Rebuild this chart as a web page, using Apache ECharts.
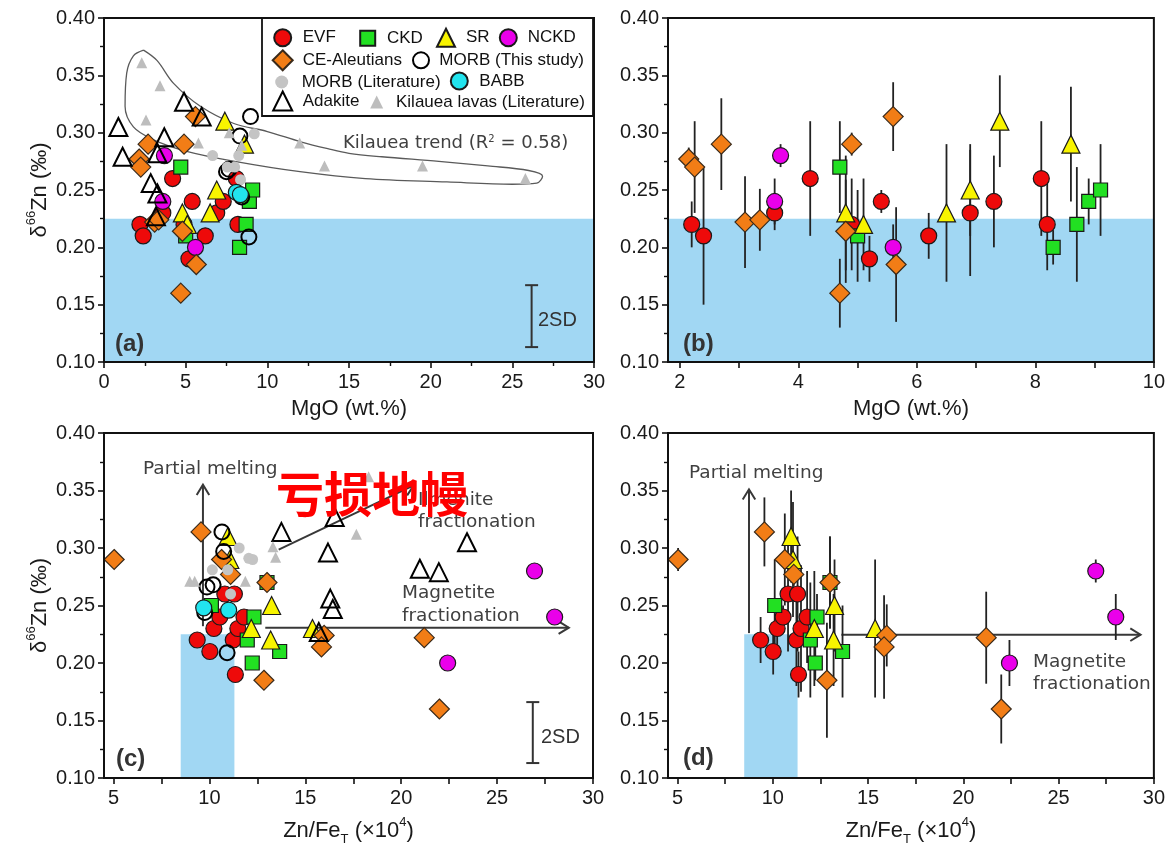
<!DOCTYPE html>
<html><head><meta charset="utf-8">
<script src="https://cdn.jsdelivr.net/npm/echarts@6/dist/echarts.min.js"></script>
<style>html,body{margin:0;padding:0;background:#fff}#c{width:1168px;height:852px}</style>
</head><body><div id="c"></div>
<script>
// ---------------- DATA ----------------
// Study samples (same sample index across MgO and Zn/FeT panels); null = not visible in that panel
const evfMgO  = [2.2, 2.4, 3.6, 4.2, 4.9, 5.2, 5.4, 6.2, 6.9, 7.3, 8.1, 8.2];
const evfZnFe = [9.36, null, 10.23, 10.8, 11.24, 11.35, 10.54, 10.02, 11.48, 11.8, 11.3, null];
const evfD66  = [0.22, 0.21, 0.23, 0.26, 0.22, 0.19, 0.24, 0.21, 0.23, 0.24, 0.26, 0.22];
const evfErr  = [0.02, 0.06, 0.015, 0.05, 0.04, 0.02, 0.01, 0.02, 0.055, 0.04, 0.05, 0.04];

const ckdMgO  = [4.7, 5.0, 8.3, 8.7, 8.9, 9.1];
const ckdZnFe = [13.0, 13.66, 12.23, 11.97, 12.32, 10.1];
const ckdD66  = [0.27, 0.21, 0.20, 0.22, 0.24, 0.25];
const ckdErr  = [0.04, 0.04, 0.015, 0.05, 0.02, 0.04];

const srMgO  = [4.8, 5.1, 6.5, 6.9, 7.4, 8.6];
const srZnFe = [12.18, 13.19, 15.37, 13.24, 10.96, 11.06];
const srD66  = [0.23, 0.22, 0.23, 0.25, 0.31, 0.29];
const srErr  = [0.05, 0.04, 0.06, 0.04, 0.04, 0.05];

const nckdMgO  = [3.7, 3.6, 5.6];
const nckdZnFe = [26.95, 28.0, 22.42];
const nckdD66  = [0.28, 0.24, 0.20];
const nckdErr  = [0.01, 0.02, 0.02];

const ceMgO  = [2.15, 2.25, 2.7, 3.1, 3.35, 4.7, 4.8, 4.9, 5.6, 5.65];
const ceZnFe = [11.1, 13.0, 10.63, 21.2, 15.98, 21.99, 15.84, 5.03, 9.56, 12.84];
const ceD66  = [0.277, 0.27, 0.29, 0.222, 0.224, 0.16, 0.214, 0.29, 0.314, 0.185];
const ceErr  = [0.01, 0.04, 0.04, 0.04, 0.027, 0.03, 0.045, 0.01, 0.03, 0.05];

const adakiteMgO  = [0.88, 1.14, 3.69, 3.27, 2.86, 3.27, 3.18, 4.9, 5.98];
const adakiteZnFe = [23.43, 21.96, 16.18, 20.97, 16.30, 16.43, 15.7, 16.53, 13.75];
const adakiteD66  = [0.305, 0.279, 0.296, 0.282, 0.256, 0.247, 0.227, 0.327, 0.314];

const morbStudyMgO  = [8.97, 8.32, 7.5, 7.65, 8.43, 8.87];
const morbStudyZnFe = [10.65, 10.74, 9.87, 10.19, 9.75, 10.92];
const morbStudyD66  = [0.314, 0.297, 0.266, 0.268, 0.244, 0.209];

const babbMgO  = [8.1, 8.35];
const babbZnFe = [9.7, 11.0];
const babbD66  = [0.248, 0.246];

// Literature data (as plotted in each panel)
const morbLitMgO   = [[9.2,0.299],[6.65,0.280],[8.25,0.280],[7.55,0.270],[8.0,0.270],[8.36,0.259]];
const morbLitZnFe  = [[11.55,0.300],[12.05,0.291],[12.25,0.290],[10.15,0.281],[10.95,0.281],[11.1,0.260]];
const kilaueaMgO   = [[2.31,0.361],[3.43,0.341],[2.57,0.311],[5.78,0.291],[7.67,0.300],[8.43,0.289],[11.98,0.291],[13.5,0.271],[19.5,0.271],[25.8,0.260]];
const kilaueaZnFe  = [[8.97,0.271],[9.23,0.271],[11.87,0.271],[13.31,0.301],[13.45,0.292],[17.66,0.312],[18.3,0.362]];

// Kilauea trend envelope (MgO, d66Zn)
const kilaueaEnvelope = [[2.42,0.372],[3.24,0.363],[4.26,0.343],[5.9,0.323],[7.95,0.308],[10.0,0.301],[12.05,0.292],[13.7,0.286],[15.0,0.282],[17.0,0.279],[20.5,0.275],[23.5,0.271],[26.0,0.267],[26.85,0.262],[26.5,0.256],[25.0,0.255],[21.0,0.257],[16.0,0.260],[12.0,0.266],[8.0,0.275],[5.0,0.284],[3.0,0.294],[1.8,0.305],[1.29,0.323],[1.39,0.352],[1.8,0.367],[2.42,0.372]];

// Reference field (x0, x1, y0, y1)
const bandMgO  = [[-1, 40, 0.10, 0.225]];
const bandZnFe = [[8.5, 11.3, 0.10, 0.225]];

// Trend arrows (x1, y1, x2, y2)
const arrowsC = [[9.66,0.232,9.66,0.355],[12.91,0.2307,28.74,0.2307],[13.61,0.2986,20.65,0.3545]];
const arrowsD = [[8.75,0.226,8.75,0.351],[13.6,0.2246,29.3,0.2246]];

// 2SD scale bars (x, center, half-length)
const sdA = [[26.18, 0.140, 0.027]];
const sdC = [[26.86, 0.1395, 0.0265]];

// Axis ticks
const xTicksB = [2,3,4,5,6,7,8,9,10];
const xLabelsB = [2,4,6,8,10];
const xTicksCD = [5,7.5,10,12.5,15,17.5,20,22.5,25,27.5,30];
const xLabelsCD = [5,10,15,20,25,30];

// ---------------- BUILD ----------------
const zip = (xs, ys) => xs.map((x,i)=> x==null ? null : [x, ys[i]]).filter(Boolean);
const zip3 = (xs, ys, es) => xs.map((x,i)=> x==null ? null : [x, ys[i], es[i]]).filter(Boolean);

const styles = {
  'EVF':          {symbol:'circle',   size:16, color:'#ee0a0a', border:'#1a1a1a', bw:1.2},
  'CKD':          {symbol:'rect',     size:14, color:'#22e022', border:'#1a1a1a', bw:1.2},
  'SR':           {symbol:'triangle', size:18, color:'#f8f400', border:'#1a1a1a', bw:1.2},
  'NCKD':         {symbol:'circle',   size:16, color:'#ea00ea', border:'#1a1a1a', bw:1.2},
  'CE-Aleutians': {symbol:'diamond',  size:20, color:'#f27d16', border:'#3a2a1a', bw:1.2},
  'MORB (This study)': {symbol:'circle', size:15, color:'transparent', border:'#000', bw:2},
  'MORB (Literature)': {symbol:'circle', size:11, color:'#c4c4c4', border:'#c4c4c4', bw:0},
  'BABB':         {symbol:'circle',   size:16, color:'#22e4ee', border:'#1a1a1a', bw:1.2},
  'Adakite':      {symbol:'triangle', size:18, color:'transparent', border:'#000', bw:2},
  'Kilauea lavas (Literature)': {symbol:'triangle', size:11, color:'#bdbdbd', border:'#bdbdbd', bw:0}
};
function sc(name, g, data){
  const s = styles[name];
  return {type:'scatter', name, xAxisIndex:g, yAxisIndex:g, data, symbol:s.symbol, symbolSize:s.size,
    itemStyle:{color:s.color, borderColor:s.border, borderWidth:s.bw, opacity:1}, z:3, silent:true, clip:true};
}
function band(g, data){
  return {type:'custom', xAxisIndex:g, yAxisIndex:g, data, z:1, silent:true, clip:true,
    renderItem:(p, api)=>{
      const a = api.coord([api.value(0), api.value(3)]);
      const b = api.coord([api.value(1), api.value(2)]);
      const cs = p.coordSys;
      const x0 = Math.max(a[0], cs.x), x1 = Math.min(b[0], cs.x+cs.width);
      return {type:'rect', shape:{x:x0, y:a[1], width:x1-x0, height:b[1]-a[1]}, style:{fill:'#a1d7f3'}};
    }};
}
function errBars(g, data){
  return {type:'custom', xAxisIndex:g, yAxisIndex:g, data, z:2, silent:true,
    renderItem:(p, api)=>{
      const x=api.value(0), y=api.value(1), e=api.value(2);
      const a=api.coord([x,y-e]), b=api.coord([x,y+e]);
      return {type:'line', shape:{x1:a[0],y1:a[1],x2:b[0],y2:b[1]}, style:{stroke:'#222', lineWidth:1.8}};
    }};
}
function arrows(g, data){
  return {type:'custom', xAxisIndex:g, yAxisIndex:g, data, z:2, silent:true,
    renderItem:(p, api)=>{
      const a=api.coord([api.value(0),api.value(1)]), b=api.coord([api.value(2),api.value(3)]);
      const ang=Math.atan2(b[1]-a[1], b[0]-a[0]), L=12, w=0.55;
      const h1=[b[0]-L*Math.cos(ang-w), b[1]-L*Math.sin(ang-w)];
      const h2=[b[0]-L*Math.cos(ang+w), b[1]-L*Math.sin(ang+w)];
      return {type:'group', children:[
        {type:'line', shape:{x1:a[0],y1:a[1],x2:b[0],y2:b[1]}, style:{stroke:'#383838', lineWidth:2}},
        {type:'polyline', shape:{points:[h1,b,h2]}, style:{stroke:'#383838', lineWidth:2, fill:null}}]};
    }};
}
function sdBar(g, data){
  return {type:'custom', xAxisIndex:g, yAxisIndex:g, data, z:4, silent:true,
    renderItem:(p, api)=>{
      const x=api.value(0), y=api.value(1), e=api.value(2);
      const a=api.coord([x,y-e]), b=api.coord([x,y+e]);
      const c=6.5;
      const st={stroke:'#333', lineWidth:2};
      return {type:'group', children:[
        {type:'line', shape:{x1:a[0],y1:a[1],x2:b[0],y2:b[1]}, style:st},
        {type:'line', shape:{x1:a[0]-c,y1:a[1],x2:a[0]+c,y2:a[1]}, style:st},
        {type:'line', shape:{x1:b[0]-c,y1:b[1],x2:b[0]+c,y2:b[1]}, style:st}]};
    }};
}

const FONT = 'Liberation Sans, Arial, sans-serif';
const ANN = 'DejaVu Sans, Verdana, sans-serif';
const grids = [
  {left:104, top:18, width:490, height:344},
  {left:668, top:18, width:489, height:344},
  {left:104, top:433, width:489, height:345},
  {left:668, top:433, width:489, height:345}
].map(g=>Object.assign(g, {show:true, borderColor:'#111', borderWidth:2, backgroundColor:'transparent', z:5}));

const axisCommon = {
  type:'value', z:5,
  axisLine:{show:true, onZero:false, lineStyle:{color:'#111', width:2}},
  axisTick:{show:true, inside:false, length:6, lineStyle:{color:'#111', width:1.6}},
  splitLine:{show:false},
  axisLabel:{fontFamily:FONT, fontSize:20, color:'#1a1a1a'}
};
function yAx(i, withName){
  const ax = Object.assign({}, axisCommon, {gridIndex:i, min:0.1, max:0.4, interval:0.05,
    minorTick:{show:true, splitNumber:2, length:4, lineStyle:{color:'#111', width:1.4}},
    axisLabel:Object.assign({}, axisCommon.axisLabel, {margin:9, formatter:v=>v.toFixed(2)})});
  if (withName){
    ax.name = '{d|δ}{s|66}{d|Zn (‰)}';
    ax.nameLocation = 'middle';
    ax.nameGap = 53;
    ax.nameTextStyle = {fontFamily:FONT, color:'#1a1a1a', rich:{
      d:{fontFamily:FONT, fontSize:22, color:'#1a1a1a', lineHeight:26, verticalAlign:'bottom'},
      s:{fontFamily:FONT, fontSize:13, color:'#1a1a1a', lineHeight:26, verticalAlign:'top'}}};
  }
  return ax;
}
const mgoName = {name:'MgO (wt.%)', nameLocation:'middle', nameGap:36,
  nameTextStyle:{fontFamily:FONT, fontSize:22, color:'#1a1a1a'}};
const znName = {name:'{d|Zn/Fe}{b|T}{d| (×10}{s|4}{d|)}', nameLocation:'middle', nameGap:38,
  nameTextStyle:{fontFamily:FONT, color:'#1a1a1a', rich:{
    d:{fontFamily:FONT, fontSize:22, color:'#1a1a1a', lineHeight:30, verticalAlign:'middle'},
    b:{fontFamily:FONT, fontSize:13, color:'#1a1a1a', lineHeight:30, verticalAlign:'bottom'},
    s:{fontFamily:FONT, fontSize:13, color:'#1a1a1a', lineHeight:30, verticalAlign:'top'}}}};

const xAxes = [
  Object.assign({}, axisCommon, mgoName, {gridIndex:0, min:0, max:30, interval:5,
    minorTick:{show:true, splitNumber:2, length:4, lineStyle:{color:'#111', width:1.4}},
    axisLabel:Object.assign({}, axisCommon.axisLabel, {margin:10})}),
  Object.assign({}, axisCommon, mgoName, {gridIndex:1, min:1.8, max:10,
    axisTick:Object.assign({}, axisCommon.axisTick, {customValues:xTicksB}),
    axisLabel:Object.assign({}, axisCommon.axisLabel, {margin:10, customValues:xLabelsB})}),
  Object.assign({}, axisCommon, znName, {gridIndex:2, min:4.5, max:30,
    axisTick:Object.assign({}, axisCommon.axisTick, {customValues:xTicksCD}),
    axisLabel:Object.assign({}, axisCommon.axisLabel, {margin:10, customValues:xLabelsCD})}),
  Object.assign({}, axisCommon, znName, {gridIndex:3, min:4.5, max:30,
    axisTick:Object.assign({}, axisCommon.axisTick, {customValues:xTicksCD}),
    axisLabel:Object.assign({}, axisCommon.axisLabel, {margin:10, customValues:xLabelsCD})})
];
const yAxes = [yAx(0,true), yAx(1,false), yAx(2,true), yAx(3,false)];

const series = [];
// Panel a (MgO, all)
series.push(band(0, bandMgO));
series.push({type:'line', xAxisIndex:0, yAxisIndex:0, data:kilaueaEnvelope, smooth:0.35, symbol:'none', showSymbol:false,
  lineStyle:{color:'#5a5a5a', width:1.3}, z:2, silent:true});
series.push(sc('EVF',0,zip(evfMgO,evfD66)));
series.push(sc('CKD',0,zip(ckdMgO,ckdD66)));
series.push(sc('SR',0,zip(srMgO,srD66)));
series.push(sc('NCKD',0,zip(nckdMgO,nckdD66)));
series.push(sc('CE-Aleutians',0,zip(ceMgO,ceD66)));
series.push(sc('MORB (This study)',0,zip(morbStudyMgO,morbStudyD66)));
series.push(sc('MORB (Literature)',0,morbLitMgO));
series.push(sc('BABB',0,zip(babbMgO,babbD66)));
series.push(sc('Adakite',0,zip(adakiteMgO,adakiteD66)));
series.push(sc('Kilauea lavas (Literature)',0,kilaueaMgO));
series.push(sdBar(0, sdA));
// Panel b (MgO, with 2SD error bars)
series.push(band(1, bandMgO));
series.push(errBars(1, [].concat(zip3(evfMgO,evfD66,evfErr), zip3(ckdMgO,ckdD66,ckdErr), zip3(srMgO,srD66,srErr), zip3(nckdMgO,nckdD66,nckdErr), zip3(ceMgO,ceD66,ceErr))));
series.push(sc('EVF',1,zip(evfMgO,evfD66)));
series.push(sc('CKD',1,zip(ckdMgO,ckdD66)));
series.push(sc('SR',1,zip(srMgO,srD66)));
series.push(sc('NCKD',1,zip(nckdMgO,nckdD66)));
series.push(sc('CE-Aleutians',1,zip(ceMgO,ceD66)));
// Panel c (Zn/FeT, all)
series.push(band(2, bandZnFe));
series.push(arrows(2, arrowsC));
series.push(sc('EVF',2,zip(evfZnFe,evfD66)));
series.push(sc('CKD',2,zip(ckdZnFe,ckdD66)));
series.push(sc('SR',2,zip(srZnFe,srD66)));
series.push(sc('NCKD',2,zip(nckdZnFe,nckdD66)));
series.push(sc('CE-Aleutians',2,zip(ceZnFe,ceD66)));
series.push(sc('MORB (This study)',2,zip(morbStudyZnFe,morbStudyD66)));
series.push(sc('MORB (Literature)',2,morbLitZnFe));
series.push(sc('BABB',2,zip(babbZnFe,babbD66)));
series.push(sc('Adakite',2,zip(adakiteZnFe,adakiteD66)));
series.push(sc('Kilauea lavas (Literature)',2,kilaueaZnFe));
series.push(sdBar(2, sdC));
// Panel d (Zn/FeT, with error bars)
series.push(band(3, bandZnFe));
series.push(arrows(3, arrowsD));
series.push(errBars(3, [].concat(zip3(evfZnFe,evfD66,evfErr), zip3(ckdZnFe,ckdD66,ckdErr), zip3(srZnFe,srD66,srErr), zip3(nckdZnFe,nckdD66,nckdErr), zip3(ceZnFe,ceD66,ceErr))));
series.push(sc('EVF',3,zip(evfZnFe,evfD66)));
series.push(sc('CKD',3,zip(ckdZnFe,ckdD66)));
series.push(sc('SR',3,zip(srZnFe,srD66)));
series.push(sc('NCKD',3,zip(nckdZnFe,nckdD66)));
series.push(sc('CE-Aleutians',3,zip(ceZnFe,ceD66)));

// Legend (one component per entry so positions match the box layout)
const legendLayout = [
  ['EVF',281.7,36.7,17,6.5],['CKD',366.7,37.3,15,6.8],['SR',445,36.7,18,6],['NCKD',507.3,36.7,17,5.9],
  ['CE-Aleutians',281.7,59.3,20,5],['MORB (This study)',420,59.3,16,5.3],
  ['MORB (Literature)',281.7,80,13,8.5],['BABB',458.3,80,17,6.5],
  ['Adakite',281.7,100,19,5.5],['Kilauea lavas (Literature)',376.7,100,13,7.8]
];
const legends = legendLayout.map(([name,cx,cy,s,gap])=>({
  data:[name], left:cx-s/2, top:cy-s/2, itemWidth:s, itemHeight:s, padding:0, itemGap:0,
  selectedMode:false, z:20,
  textStyle:{fontFamily:FONT, fontSize:17, color:'#111', padding:[1,0,0,gap]}
}));

function txt(x, y, text, font, extra){
  return Object.assign({type:'text', z:50, silent:true,
    style:Object.assign({x, y, text, font, fill:'#404040', align:'left', verticalAlign:'middle'}, extra||{})});
}
const A = '18.5px ' + ANN;
const graphics = [
  {type:'rect', z:20, silent:true, shape:{x:262, y:18, width:331, height:98}, style:{fill:null, stroke:'#111', lineWidth:1.8}},
  txt(115, 344, '(a)', 'bold 24px '+FONT, {fill:'#333'}),
  txt(683, 344, '(b)', 'bold 24px '+FONT, {fill:'#333'}),
  txt(116, 759, '(c)', 'bold 24px '+FONT, {fill:'#333'}),
  txt(683, 758, '(d)', 'bold 24px '+FONT, {fill:'#333'}),
  txt(343, 143, 'Kilauea trend (R{s|2} = 0.58)', '18px '+ANN, {rich:{s:{font:'10px '+ANN, fill:'#404040', verticalAlign:'top'}}}),
  txt(538, 320, '2SD', '20px '+FONT, {fill:'#333'}),
  txt(541, 737, '2SD', '20px '+FONT, {fill:'#333'}),
  txt(143, 469, 'Partial melting', A),
  txt(418, 500, 'Ilmenite', A),
  txt(418, 522, 'fractionation', A),
  txt(402, 593, 'Magnetite', A),
  txt(402, 616, 'fractionation', A),
  txt(689, 473, 'Partial melting', A),
  txt(1033, 662, 'Magnetite', A),
  txt(1033, 684, 'fractionation', A),
  Object.assign(txt(372, 494, '亏损地幔', 'bold 48px "Noto Sans CJK SC", sans-serif', {fill:'#ff0000', align:'center'}), {z:60})
];

const chart = echarts.init(document.getElementById('c'), null, {renderer:'canvas'});
chart.setOption({
  animation:false, backgroundColor:'#fff',
  grid:grids, xAxis:xAxes, yAxis:yAxes, legend:legends, series, graphic:graphics
});
</script></body></html>
